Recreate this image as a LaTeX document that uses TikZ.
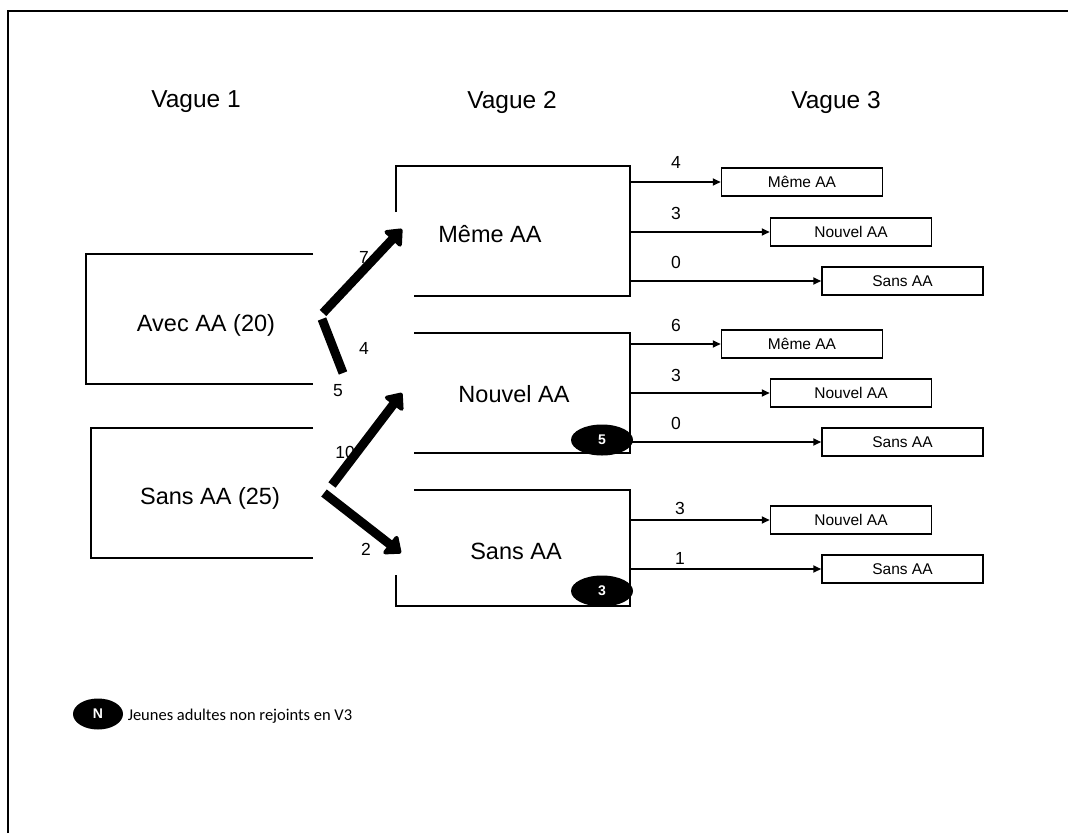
\documentclass[tikz,border=0pt]{standalone}
\usepackage{fontspec}
\setmainfont{Liberation Sans}
\newfontfamily\legendfont{Carlito}
\usetikzlibrary{arrows.meta,shapes.geometric}

\begin{document}
\begin{tikzpicture}[x=1pt,y=-1pt,
  line width=1.5pt,
  title/.style={font=\fontsize{24.5}{28}\selectfont, inner sep=0pt},
  bigtext/.style={font=\fontsize{23.5}{26}\selectfont, inner sep=0pt},
  count/.style={font=\fontsize{17.5}{20}\selectfont, inner sep=0pt},
  wavebox/.style={draw, line width=1.5pt, minimum width=161pt, minimum height=28pt,
                  inner sep=0pt, font=\fontsize{15.5}{18}\selectfont},
  thinarrow/.style={line width=1.8pt, -{Triangle[length=8pt,width=7pt]}},
  flow/.style={line width=9pt, -{Triangle[round,length=16pt,width=26pt]}},
  flowline/.style={line width=9pt},
  lostmark/.style={ellipse, fill=black, text=white, minimum width=62pt, minimum height=31pt,
                   inner sep=0pt, font=\bfseries\fontsize{14}{16}\selectfont},
  edge/.style={line width=1.5pt}]

\useasboundingbox (0,0) rectangle (1068,833);

% page frame (top and left edges)
\draw[line width=2pt] (8,833) -- (8,11) -- (1068,11);

% column titles
\node[title] (t1) at (196,102) {Vague 1};
\node[title] (t2) at (512,102) {Vague 2};
\node[title] (t3) at (836,102) {Vague 3};

% wave 1 groups
\draw[edge] (313,254) -- (86,254) -- (86,384) -- (313,384);
\node[bigtext] (w1a) at (206,325) {Avec AA (20)};
\draw[edge] (313,428) -- (91,428) -- (91,558) -- (313,558);
\node[bigtext] (w1s) at (210,498) {Sans AA (25)};

% wave 2 groups
\draw[edge] (396,212) -- (396,166) -- (630,166) -- (630,296) -- (414,296);
\node[bigtext] (w2m) at (490,234) {Même AA};
\draw[edge] (414,333) -- (630,333) -- (630,453) -- (414,453);
\node[bigtext] (w2n) at (514,394) {Nouvel AA};
\draw[edge] (414,490) -- (630,490) -- (630,606) -- (396,606) -- (396,575);
\node[bigtext] (w2s) at (516,551) {Sans AA};

% young adults not reached in wave 3
\node[lostmark] (lostn) at (602,440) {5};
\node[lostmark] (losts) at (602,591) {3};

% wave 3 groups
\node[wavebox] (a1) at (802,182) {Même AA};
\node[wavebox] (a2) at (851,232) {Nouvel AA};
\node[wavebox] (a3) at (902.5,281) {Sans AA};
\node[wavebox] (b1) at (802,344) {Même AA};
\node[wavebox] (b2) at (851,393) {Nouvel AA};
\node[wavebox] (b3) at (902.5,442) {Sans AA};
\node[wavebox] (c2) at (851,520) {Nouvel AA};
\node[wavebox] (c3) at (902.5,569) {Sans AA};

% wave 2 -> wave 3 transitions
\coordinate (mr) at (630,0);
\draw[thinarrow] (mr |- a1.west) -- (a1.west);
\draw[thinarrow] (mr |- a2.west) -- (a2.west);
\draw[thinarrow] (mr |- a3.west) -- (a3.west);
\draw[thinarrow] (mr |- b1.west) -- (b1.west);
\draw[thinarrow] (mr |- b2.west) -- (b2.west);
\draw[thinarrow] (mr |- b3.west) -- (b3.west);
\draw[thinarrow] (mr |- c2.west) -- (c2.west);
\draw[thinarrow] (mr |- c3.west) -- (c3.west);

\node[count] (na1) at (676,162) {4};
\node[count] (na2) at (676,213) {3};
\node[count] (na3) at (676,262) {0};
\node[count] (nb1) at (676,325) {6};
\node[count] (nb2) at (676,375) {3};
\node[count] (nb3) at (676,423) {0};
\node[count] (nc2) at (680,508) {3};
\node[count] (nc3) at (680,558) {1};

% wave 1 -> wave 2 transitions
\node[count] (n7) at (364,257) {7};
\node[count] (n4) at (364,348) {4};
\node[count] (n5) at (338,391) {5};
\node[count] (n10) at (345,452) {10};
\node[count] (n2) at (366,549) {2};

\coordinate (fa1) at (323,313);
\coordinate (fa2) at (402,229);
\coordinate (fb1) at (322,319);
\coordinate (fb2) at (343,373);
\coordinate (fc1) at (332,485);
\coordinate (fc2) at (402,393);
\coordinate (fd1) at (324,493);
\coordinate (fd2) at (401,553);
\draw[flow] (fa1) -- (fa2);
\draw[flowline] (fb1) -- (fb2);
\draw[flow] (fc1) -- (fc2);
\draw[flow] (fd1) -- (fd2);

% legend
\node[lostmark, minimum width=50pt, minimum height=31pt] (key) at (98,714) {N};
\node[anchor=west, inner sep=0pt, font=\legendfont\fontsize{16.5}{20}\selectfont] (keytext)
  at (127,716) {Jeunes adultes non rejoints en V3};
\end{tikzpicture}
\end{document}
